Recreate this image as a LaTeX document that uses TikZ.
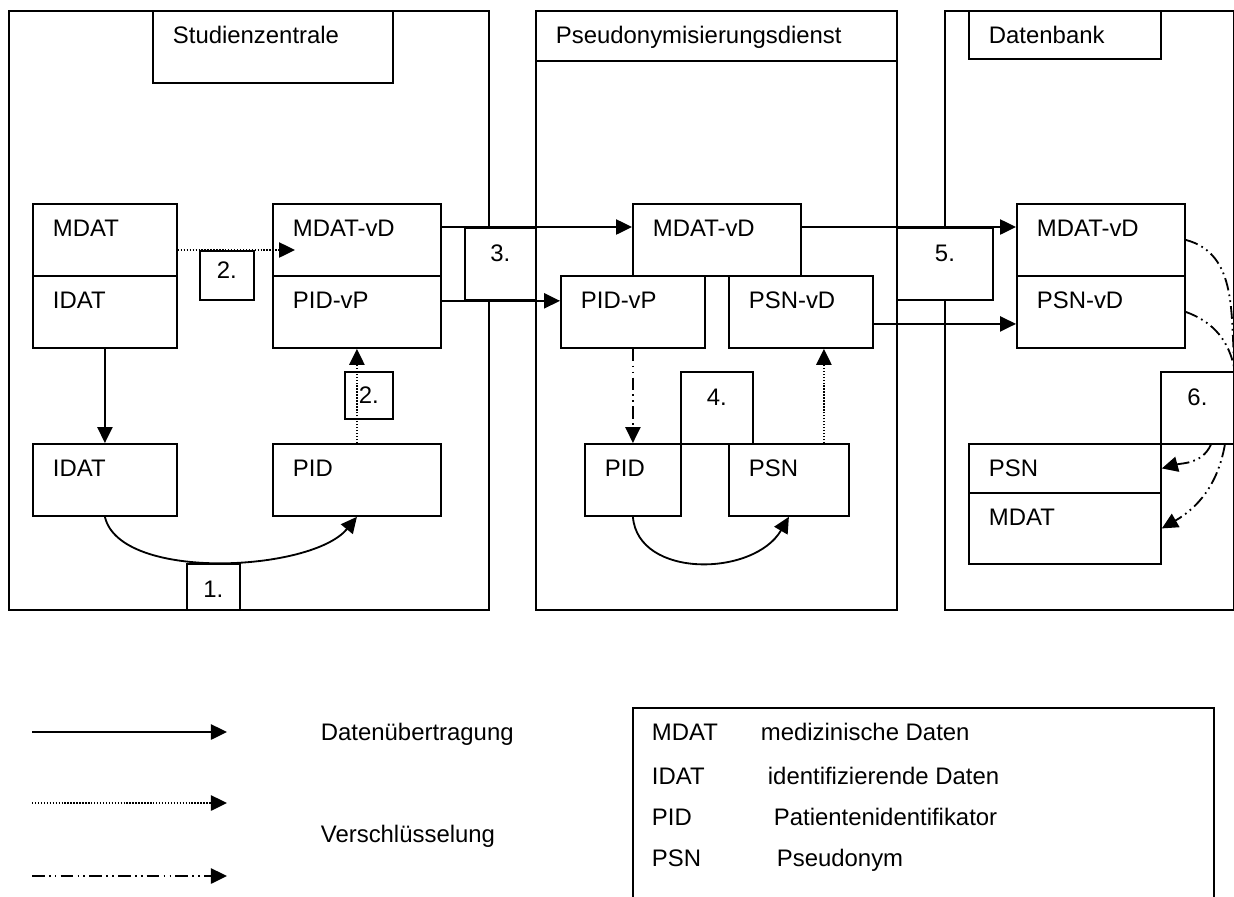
\documentclass[tikz,border=0pt]{standalone}
\usepackage{fontspec}
\setmainfont{Liberation Sans}
\usetikzlibrary{arrows.meta,calc}
\begin{document}
\begin{tikzpicture}[>={Triangle[length=0.4cm,width=0.38cm]},
    x=0.025cm,y=-0.025cm,line width=1.3pt,font=\fontsize{17}{20}\selectfont,
    areabox/.style 2 args={draw,fill=white,anchor=north west,inner sep=0pt,
        minimum width=#1*0.025cm,minimum height=#2*0.025cm},
    boxtext/.style={anchor=base west,inner sep=0pt,xshift=0.5cm,yshift=-0.825cm},
    numtext/.style={anchor=base,inner sep=0pt,yshift=-0.85cm},
    plaintext/.style={anchor=base west,inner sep=0pt},
    dotline/.style={dash pattern=on 1pt off 1.1pt},
    dashdotline/.style={dash pattern=on 9pt off 3pt on 1.2pt off 3pt on 1.2pt off 3pt}]
\useasboundingbox (0,0) rectangle (1234,896);
\clip (0,0) rectangle (1234,896);
\node[areabox={480}{599}] (szArea) at (8,10) {};
\node[areabox={361}{599}] (pdArea) at (535,10) {};
\node[areabox={289}{599}] (dbArea) at (944,10) {};
\node[areabox={240}{72},label={[boxtext]north west:Studienzentrale}] (szTitle) at (152,10) {};
\node[areabox={361}{50},label={[boxtext]north west:Pseudonymisierungsdienst}] (pdTitle) at (535,10) {};
\node[areabox={192}{48},label={[boxtext]north west:Datenbank}] (dbTitle) at (968,10) {};
\begin{scope}
    \node[areabox={144}{72},label={[boxtext]north west:MDAT}] (mdatA) at (32,203) {};
    \node[areabox={144}{72},label={[boxtext]north west:IDAT}] (idatA) at (32,275) {};
    \node[areabox={168}{72},label={[boxtext]north west:MDAT-vD}] (mdatvdA) at (272,203) {};
    \node[areabox={168}{72},label={[boxtext]north west:PID-vP}] (pidvpA) at (272,275) {};
    \node[areabox={144}{72},label={[boxtext]north west:IDAT}] (idatB) at (32,443) {};
    \node[areabox={168}{72},label={[boxtext]north west:PID}] (pidA) at (272,443) {};
    \node[areabox={54}{49},label={[numtext,yshift=0.15cm]north:2.}] (n2a) at (199,250) {};
    \node[areabox={48}{47},label={[numtext,yshift=0.05cm]north:2.}] (n2b) at (344,371) {};
    \node[areabox={53}{46},label={[numtext]north:1.}] (n1) at (186,563) {};
    \coordinate (encEnd) at (295,250);
    \draw[->] (idatA.south) -- (idatB.north);
    \draw[->] (idatB.south) .. controls +(15,65) and +(-45,55) .. (pidA.south);
    \draw[dotline,->] (mdatA.east |- n2a.north) -- (encEnd);
    \draw[dotline,->] (pidA.north) -- (pidvpA.south);
\end{scope}
\node[areabox={71}{72},label={[numtext]north:3.}] (n3) at (464,227) {};
\begin{scope}
    \node[areabox={168}{72},label={[boxtext]north west:MDAT-vD}] (mdatvdB) at (632,203) {};
    \node[areabox={144}{72},label={[boxtext]north west:PID-vP}] (pidvpB) at (560,275) {};
    \node[areabox={144}{72},label={[boxtext]north west:PSN-vD}] (psnvdB) at (728,275) {};
    \node[areabox={72}{72},label={[numtext]north:4.}] (n4) at (680,371) {};
    \node[areabox={96}{72},label={[boxtext]north west:PID}] (pidB) at (584,443) {};
    \node[areabox={120}{72},label={[boxtext]north west:PSN}] (psnB) at (728,443) {};
    \coordinate (psnUp) at ($(psnB.north)+(35,0)$);
    \draw[dashdotline,->] (pidvpB.south) -- (pidB.north);
    \draw[dotline,->] (psnUp) -- (psnUp |- psnvdB.south);
    \draw[->] (pidB.south) .. controls +(5,62) and +(-35,60) .. (psnB.south);
\end{scope}
\node[areabox={96}{72},label={[numtext]north:5.}] (n5) at (896,227) {};
\begin{scope}
    \node[areabox={168}{72},label={[boxtext]north west:MDAT-vD}] (mdatvdC) at (1016,203) {};
    \node[areabox={168}{72},label={[boxtext]north west:PSN-vD}] (psnvdC) at (1016,275) {};
    \node[areabox={73}{72},label={[numtext]north:6.}] (n6) at (1160,371) {};
    \node[areabox={192}{49},label={[boxtext]north west:PSN}] (psnC) at (968,443) {};
    \node[areabox={192}{71},label={[boxtext]north west:MDAT}] (mdatC) at (968,492) {};
    \draw[dashdotline] (mdatvdC.east) to[out=-15,in=95] (n6.north east);
    \draw[dashdotline] (psnvdC.east) to[out=-20,in=100] (n6.north east);
    \draw[dashdotline,->] ($(n6.south east)+(-24,0)$) to[out=-115,in=15] (psnC.east);
    \draw[dashdotline,->] ($(n6.south east)+(-10,0)$) to[out=-100,in=30] (mdatC.east);
\end{scope}
\draw[->] (mdatvdA.east |- n3.north) -- (mdatvdB.west |- n3.north);
\draw[->] (pidvpA.east |- n3.south) -- (pidvpB.west |- n3.south);
\draw[->] (mdatvdB.east |- n5.north) -- (mdatvdC.west |- n5.north);
\draw[->] ($(psnvdB.east)+(0,12)$) -- ($(psnvdC.west)+(0,12)$);
\begin{scope}
    \coordinate (solidA) at (32,732); \coordinate (solidB) at (227,732);
    \coordinate (dotA) at (32,803);   \coordinate (dotB) at (227,803);
    \coordinate (ddA) at (32,876);    \coordinate (ddB) at (227,876);
    \draw[->] (solidA) -- (solidB);
    \draw[dotline,->] (dotA) -- (dotB);
    \draw[dashdotline,->] (ddA) -- (ddB);
    \node[plaintext] (transfer) at (320,740) {Datenübertragung};
    \node[plaintext] (encrypt) at (320,842) {Verschlüsselung};
    \node[areabox={581}{240}] (abbrevBox) at (632,707) {};
    \foreach \y/\ab/\xm/\txt in {740/MDAT/760/medizinische Daten, 784/IDAT/767/identifizierende Daten,
        825/PID/773/Patientenidentifikator, 866/PSN/776/Pseudonym}
    {
        \node[plaintext] (ab\y) at (651,\y) {\ab};
        \node[plaintext] (txt\y) at (\xm,\y) {\txt};
    }
\end{scope}
\end{tikzpicture}
\end{document}
